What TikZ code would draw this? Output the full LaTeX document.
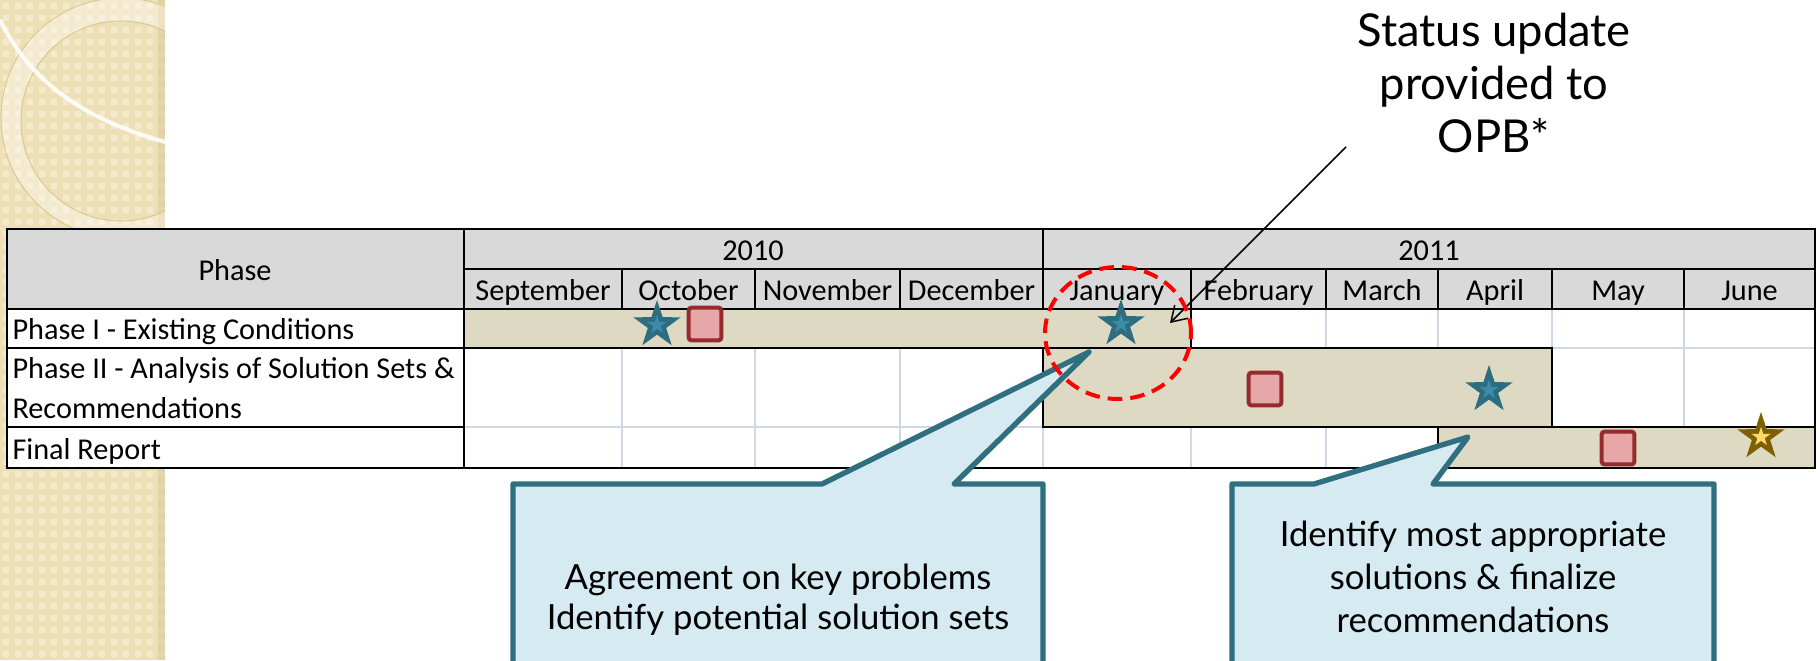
\documentclass[tikz,border=0pt]{standalone}
\usepackage{fontspec}
\setmainfont{Carlito}
\newfontfamily\callfont{Lato}
\usetikzlibrary{shapes.geometric,arrows.meta}

\definecolor{headgray}{RGB}{217,217,217}
\definecolor{bartan}{RGB}{221,217,195}
\definecolor{gridblue}{RGB}{208,215,229}
\definecolor{starteal}{RGB}{44,109,128}
\definecolor{starlight}{RGB}{60,140,168}
\definecolor{sqred}{RGB}{150,43,46}
\definecolor{sqpink}{RGB}{231,166,168}
\definecolor{stargold}{RGB}{127,96,0}
\definecolor{goldlight}{RGB}{255,217,102}
\definecolor{callfill}{RGB}{213,234,241}
\definecolor{callline}{RGB}{47,111,128}
\definecolor{stripbase}{RGB}{238,224,182}
\definecolor{striplite}{RGB}{244,235,205}
\definecolor{stripdark}{RGB}{218,200,150}

\tikzset{every picture/.style={line width=0.75pt}}
\tikzset{
	tabline/.style={draw=black, line width=1.5pt},
	gridline/.style={draw=gridblue, line width=1.5pt},
	headcell/.style={fill=headgray, tabline},
	barcell/.style={fill=bartan, tabline},
	tabtxt/.style={font=\fontsize{22.7}{30}\selectfont, inner sep=0pt},
	bigstar/.style={star, star points=5, star point ratio=2.6, minimum size=37.5pt, inner sep=0pt},
	smallstar/.style={star, star points=5, star point ratio=2.6, minimum size=15pt, inner sep=0pt},
	tealstar/.style={bigstar, fill=starteal},
	tealcore/.style={smallstar, fill=starlight},
	goldstar/.style={bigstar, fill=stargold},
	goldcore/.style={smallstar, fill=goldlight},
	redbox/.style={rectangle, rounded corners=2pt, draw=sqred, fill=sqpink, line width=3pt, minimum width=24.5pt, minimum height=24.5pt, inner sep=0pt},
	callbox/.style={fill=callfill, draw=callline, line width=4pt, line join=round},
	calltxt/.style={font=\callfont\fontsize{26}{30}\selectfont, align=center, inner sep=0pt},
}

\begin{document}
\begin{tikzpicture}[x=0.75pt,y=0.75pt,yscale=-1,xscale=1]
	\useasboundingbox (0,0) rectangle (1819,660);
	\clip (0,0) rectangle (1819,660);
	\fill[white] (0,0) rectangle (1819,660);

	%Shape: left strip
	\fill[stripbase] (0,0) rectangle (165,660);
	\foreach \i in {0,...,13}{
		\foreach \j in {0,...,54}{
			\fill[striplite] ({\i*12+3},{\j*12+3}) rectangle ++(6,6);
		}
	}
	\fill[stripdark, opacity=0.6] (158,0) rectangle (165,660);
	\begin{scope}
		\clip (0,0) rectangle (165,660);
		\fill[white, opacity=0.35, even odd rule] (121,118) circle[radius=120] (121,121) circle[radius=100];
		\draw[stripdark] (121,118) circle[radius=120];
		\draw[stripdark] (121,121) circle[radius=100];
		\draw[white, line width=3pt, opacity=0.85] (0,20) .. controls (30,80) and (80,118) .. (165,142);
	\end{scope}

	%Shape: table body
	\fill[white] (7,229) rectangle (1815,468);
	\foreach \gx in {622,755,900,1043,1191,1326,1438,1552,1684}{
		\draw[gridline] (\gx,309) -- (\gx,468);
	}
	\draw[gridline] (464,348) -- (1815,348);
	\draw[gridline] (464,427) -- (1815,427);

	%Shape: bars
	\draw[barcell] (464,309) rectangle (1191,348);
	\draw[barcell] (1043,348) rectangle (1552,427);
	\draw[barcell] (1438,427) rectangle (1815,468);

	%Shape: header
	\draw[headcell] (7,229) rectangle (464,309);
	\draw[headcell] (464,229) rectangle (1043,269);
	\draw[headcell] (1043,229) rectangle (1815,269);
	\node[tabtxt, anchor=base] (phaseHead) at (235,280) {Phase};
	\node[tabtxt, anchor=base] (y2010) at (753,260) {2010};
	\node[tabtxt, anchor=base] (y2011) at (1429,260) {2011};
	\foreach \xa/\xb/\mon in {464/622/September, 622/755/October, 755/900/November, 900/1043/December, 1043/1191/January, 1191/1326/February, 1326/1438/March, 1438/1552/April, 1552/1684/May, 1684/1815/June}{
		\draw[headcell] (\xa,269) rectangle (\xb,309);
		\node[tabtxt, anchor=base] (\mon) at ({(\xa+\xb)/2},300) {\mon};
	}

	%Shape: phase column
	\draw[tabline] (7,309) rectangle (464,348);
	\draw[tabline] (7,348) rectangle (464,427);
	\draw[tabline] (7,427) rectangle (464,468);
	\draw[tabline] (7,229) rectangle (1815,468);

	% Text Node
	\node[tabtxt, anchor=base west] (rowOne) at (12,339) {Phase I - Existing Conditions};
	% Text Node
	\node[tabtxt, anchor=west, align=left] (rowTwo) at (12,388) {Phase II - Analysis of Solution Sets \&\\Recommendations};
	% Text Node
	\node[tabtxt, anchor=base west] (rowThree) at (12,459) {Final Report};

	%Shape: milestones
	\node[tealstar] (mkOctStar) at (657,325) {};
	\node[tealcore] (mkOctCore) at (657,325) {};
	\node[redbox] (mkOctBox) at (705,324) {};
	\node[tealstar] (mkJanStar) at (1121,324) {};
	\node[tealcore] (mkJanCore) at (1121,324) {};
	\node[redbox] (mkFebBox) at (1265,389) {};
	\node[tealstar] (mkAprStar) at (1489,390) {};
	\node[tealcore] (mkAprCore) at (1489,390) {};
	\node[redbox] (mkMayBox) at (1618,448) {};
	\node[goldstar] (mkJunStar) at (1761,437) {};
	\node[goldcore] (mkJunCore) at (1761,437) {};

	%Shape: callouts
	\coordinate (tipA) at (1089,352);
	\draw[callbox] (513,484) -- (822,484) -- (tipA) -- (954,484) -- (1043,484) -- (1043,700) -- (513,700) -- cycle;
	\node[calltxt] (agreeTxt) at (778,600) {Agreement on key problems\\Identify potential solution sets};
	\coordinate (tipB) at (1468,437);
	\draw[callbox] (1232,484) -- (1314,484) -- (tipB) -- (1433,484) -- (1714,484) -- (1714,700) -- (1232,700) -- cycle;
	\node[calltxt, font=\callfont\fontsize{26}{32}\selectfont] (identTxt) at (1473,577) {Identify most appropriate\\solutions \& finalize\\recommendations};

	% Text Node
	\node[calltxt, font=\callfont\fontsize{34}{40}\selectfont] (statusTxt) at (1494,83) {Status update\\provided to\\OPB*};
	%Straight Lines
	\coordinate (arrFrom) at (1346,147);
	\coordinate (arrTo) at (1170,323);
	\draw[-{Straight Barb[length=11pt,width=14pt]}, line width=1.1pt] (arrFrom) -- (arrTo);

	%Shape: Ellipse
	\node[ellipse, draw=red, line width=3pt, dash pattern=on 11pt off 6pt, minimum width=109.5pt, minimum height=99pt, inner sep=0pt] (janRing) at (1118,333) {};

\end{tikzpicture}
\end{document}
